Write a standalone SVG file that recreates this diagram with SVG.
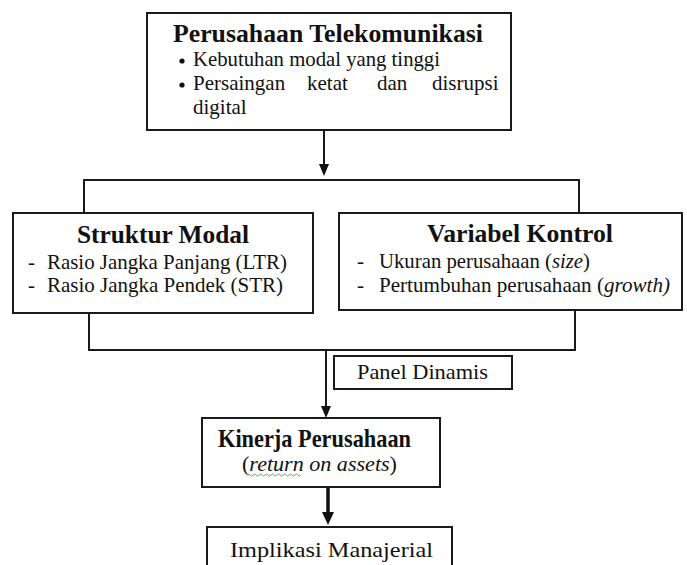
<svg xmlns="http://www.w3.org/2000/svg" width="687" height="565" viewBox="0 0 687 565">
  <style>
    .box { fill: #ffffff; stroke: #1a1a1a; stroke-width: 2; }
    .ln { fill: none; stroke: #1a1a1a; stroke-width: 2; }
    .ah { fill: #111111; stroke: none; }
    text { font-family: "Liberation Serif", "Times New Roman", serif; fill: #111111; }
    .ttl { font-weight: bold; font-size: 25px; }
    .body { font-size: 21px; }
    .it { font-style: italic; }
  </style>
  <rect width="687" height="565" fill="#ffffff"/>

  <g id="connectors">
    <line class="ln" x1="324" y1="130" x2="324" y2="166"/>
    <polygon class="ah" points="319,164 329,164 324,176"/>
    <polyline class="ln" points="84,212 84,180 579,180 579,213"/>
    <polyline class="ln" points="89,313 89,350 575,350 575,310"/>
    <line class="ln" x1="326" y1="350" x2="326" y2="408"/>
    <polygon class="ah" points="321,406 331,406 326,418"/>
    <line x1="328" y1="487" x2="328" y2="514" stroke="#111111" stroke-width="3.5"/>
    <polygon class="ah" points="322,512 334,512 328,525"/>
  </g>

  <g id="perusahaan-telekomunikasi">
    <rect class="box" x="147" y="13" width="364" height="117"/>
    <text class="ttl" x="173" y="42" textLength="310" lengthAdjust="spacingAndGlyphs">Perusahaan Telekomunikasi</text>
    <circle cx="182" cy="61" r="2.6" fill="#111111"/>
    <text class="body" x="193" y="66" textLength="247" lengthAdjust="spacingAndGlyphs">Kebutuhan modal yang tinggi</text>
    <circle cx="182" cy="85" r="2.6" fill="#111111"/>
    <text class="body" x="193" y="90"><tspan x="193">Persaingan</tspan><tspan x="307">ketat</tspan><tspan x="377">dan</tspan><tspan x="432">disrupsi</tspan></text>
    <text class="body" x="193" y="114">digital</text>
  </g>

  <g id="struktur-modal">
    <rect class="box" x="13" y="213" width="300" height="100"/>
    <text class="ttl" x="77" y="243" textLength="172" lengthAdjust="spacingAndGlyphs">Struktur Modal</text>
    <text class="body" x="28" y="269">-</text>
    <text class="body" x="47" y="269" textLength="240" lengthAdjust="spacingAndGlyphs">Rasio Jangka Panjang (LTR)</text>
    <text class="body" x="28" y="292">-</text>
    <text class="body" x="47" y="292" textLength="236" lengthAdjust="spacingAndGlyphs">Rasio Jangka Pendek (STR)</text>
  </g>

  <g id="variabel-kontrol">
    <rect class="box" x="339" y="213" width="343" height="97"/>
    <text class="ttl" x="427" y="242" textLength="186" lengthAdjust="spacingAndGlyphs">Variabel Kontrol</text>
    <text class="body" x="357" y="268">-</text>
    <text class="body" x="379" y="268" textLength="211" lengthAdjust="spacingAndGlyphs">Ukuran perusahaan (<tspan class="it">size</tspan>)</text>
    <text class="body" x="357" y="292">-</text>
    <text class="body" x="379" y="292" textLength="291" lengthAdjust="spacingAndGlyphs">Pertumbuhan perusahaan (<tspan class="it">growth)</tspan></text>
  </g>

  <g id="panel-dinamis">
    <rect class="box" x="334" y="356" width="178" height="33"/>
    <text class="body" x="357" y="379" font-size="22" textLength="131" lengthAdjust="spacingAndGlyphs">Panel Dinamis</text>
  </g>

  <g id="kinerja-perusahaan">
    <rect class="box" x="202" y="418" width="238" height="69"/>
    <text class="ttl" x="218" y="447" font-size="23" textLength="193" lengthAdjust="spacingAndGlyphs">Kinerja Perusahaan</text>
    <text class="body" x="242" y="471" textLength="155" lengthAdjust="spacingAndGlyphs">(<tspan class="it">return</tspan> <tspan class="it">on assets</tspan>)</text>
    <path d="M247,475 q1.5,-2 3,0 t3,0 t3,0 t3,0 t3,0 t3,0 t3,0 t3,0 t3,0 t3,0 t3,0 t3,0 t3,0 t3,0 t3,0 t3,0 t3,0 t3,0" fill="none" stroke="#5cae5c" stroke-width="1"/>
  </g>

  <g id="implikasi-manajerial">
    <rect class="box" x="207" y="527" width="245" height="60"/>
    <text class="body" x="230" y="557" font-size="24" textLength="203" lengthAdjust="spacingAndGlyphs">Implikasi Manajerial</text>
  </g>
</svg>
